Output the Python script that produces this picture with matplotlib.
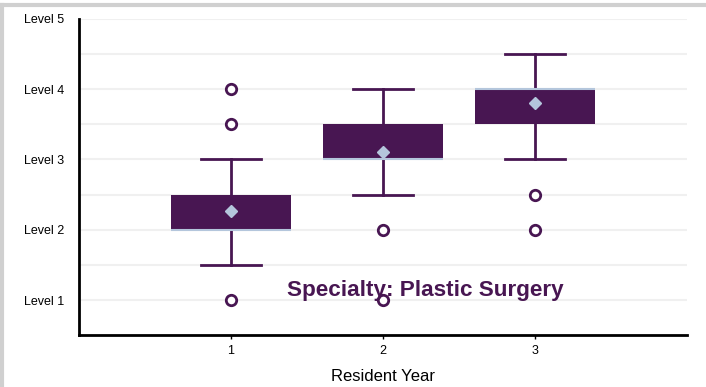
import matplotlib
matplotlib.use("Agg")
import matplotlib.pyplot as plt
from matplotlib.lines import Line2D

plt.rcParams['font.family'] = ['Liberation Sans', 'DejaVu Sans']

# data
years = [1, 2, 3]
q1 = [2.0, 3.0, 3.5]
q3 = [2.5, 3.5, 4.0]
medians = [2.0, 3.0, 4.0]
means = [2.27, 3.1, 3.8]
whisk_lo = [1.5, 2.5, 3.0]
whisk_hi = [3.0, 4.0, 4.5]
outliers = [[1.0, 3.5, 4.0], [1.0, 2.0], [2.0, 2.5]]
level_ticks = [1, 2, 3, 4, 5]
level_labels = ["Level 1", "Level 2", "Level 3", "Level 4", "Level 5"]

purple = "#481652"
light = "#b4c6dc"

stats = []
for i in range(len(years)):
    stats.append({
        "q1": q1[i], "q3": q3[i], "med": medians[i], "mean": means[i],
        "whislo": whisk_lo[i], "whishi": whisk_hi[i], "fliers": outliers[i],
        "label": str(years[i]),
    })

fig = plt.figure(figsize=(7.06, 3.87), dpi=100)
ax = fig.add_axes([0.112, 0.134, 0.861, 0.817])

ax.bxp(stats, positions=years, widths=0.79, patch_artist=True, showmeans=True,
       boxprops=dict(facecolor=purple, edgecolor=purple, linewidth=0),
       medianprops=dict(color=light, linewidth=1.5),
       whiskerprops=dict(color=purple, linewidth=2),
       capprops=dict(color=purple, linewidth=2),
       capwidths=0.4,
       meanprops=dict(marker="D", markerfacecolor=light, markeredgecolor=light,
                      markersize=6),
       flierprops=dict(marker="o", markerfacecolor="white", markeredgecolor=purple,
                       markeredgewidth=2, markersize=7.5),
       zorder=3)

ax.set_xlim(0, 4)
ax.set_ylim(0.5, 5)
ax.set_xticks(years)
ax.set_xticklabels([str(y) for y in years], fontsize=9)
ax.set_yticks(level_ticks)
ax.set_yticklabels(level_labels, fontsize=9)
ax.set_yticks([1.5, 2.5, 3.5, 4.5], minor=True)
ax.tick_params(axis="y", length=0, pad=11)
ax.tick_params(axis="y", which="minor", length=0)
ax.tick_params(axis="x", length=3, width=1, pad=4)
ax.grid(True, axis="y", which="both", color="#f0f0f0", linewidth=1.5, zorder=0)
ax.set_axisbelow(True)

for s in ["top", "right"]:
    ax.spines[s].set_visible(False)
for s in ["left", "bottom"]:
    ax.spines[s].set_linewidth(2)
    ax.spines[s].set_color("black")

ax.set_xlabel("Resident Year", fontsize=12, labelpad=9)

ax.text(0.569, 0.14, "Specialty: Plastic Surgery", transform=ax.transAxes,
        ha="center", va="center", fontsize=16.2, fontweight="bold", color=purple,
        zorder=5)

# light frame on top and left of the picture
fig.add_artist(Line2D([0, 1], [0.987, 0.987], transform=fig.transFigure,
                      color="#d0d0d0", linewidth=3))
fig.add_artist(Line2D([0.003, 0.003], [0, 0.987], transform=fig.transFigure,
                      color="#d0d0d0", linewidth=3))

fig.savefig("out.png", dpi=100)
